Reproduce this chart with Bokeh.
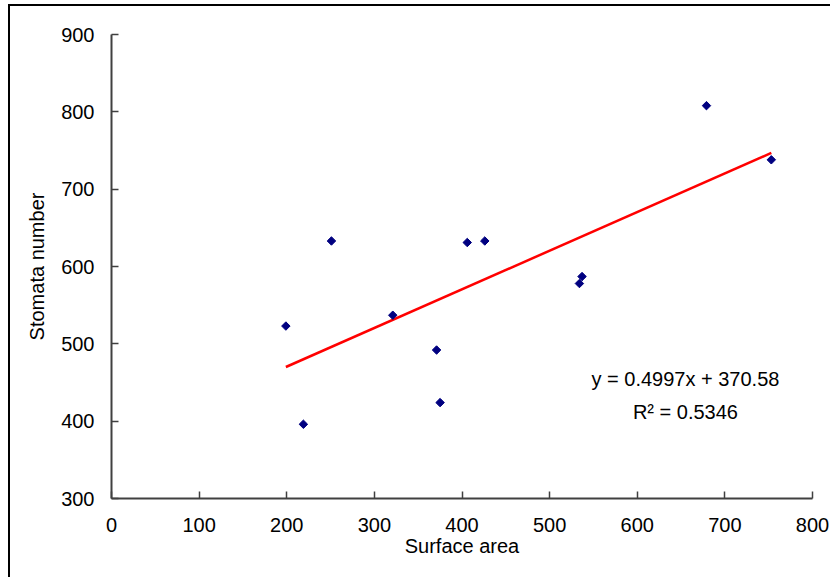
from bokeh.plotting import figure
from bokeh.models import Range1d, FixedTicker, Label
from bokeh.embed import file_html
from bokeh.resources import INLINE

# Data
surface_area = [199, 219, 251, 321, 371, 375, 406, 426, 534, 537, 679, 753]
stomata_number = [523, 396, 633, 537, 492, 424, 631, 633, 578, 587, 808, 738]

slope = 0.4997
intercept = 370.58
r_squared = 0.5346

x_ticks = [0, 100, 200, 300, 400, 500, 600, 700, 800]
y_ticks = [300, 400, 500, 600, 700, 800, 900]

FONT = "Liberation Sans"
FS = "20px"

p = figure(
    width=820, height=571,
    frame_width=701, frame_height=464,
    x_range=Range1d(x_ticks[0], x_ticks[-1]),
    y_range=Range1d(y_ticks[0], y_ticks[-1]),
    output_backend="svg", toolbar_location=None,
    min_border_left=101, min_border_top=28, min_border_right=18, min_border_bottom=79,
)
p.styles = {"margin-left": "8px", "margin-top": "4px",
            "border-left": "2px solid #000", "border-top": "2px solid #000"}
p.outline_line_color = None
p.background_fill_color = "white"
p.border_fill_color = "white"
p.xgrid.visible = False
p.ygrid.visible = False

for ax in (p.xaxis[0], p.yaxis[0]):
    ax.axis_line_color = "#404040"
    ax.axis_line_width = 2
    ax.major_tick_line_color = "#404040"
    ax.major_tick_line_width = 1.5
    ax.major_tick_in = 7
    ax.major_tick_out = 0
    ax.minor_tick_line_color = None
    ax.major_label_text_font = FONT
    ax.major_label_text_font_size = FS
    ax.major_label_text_color = "black"
    ax.axis_label_text_font = FONT
    ax.axis_label_text_font_size = FS
    ax.axis_label_text_font_style = "normal"
    ax.axis_label_text_color = "black"

p.xaxis.ticker = FixedTicker(ticks=x_ticks)
p.yaxis.ticker = FixedTicker(ticks=y_ticks)
p.xaxis.axis_label = "Surface area"
p.yaxis.axis_label = "Stomata number"
p.xaxis.major_label_standoff = 19
p.yaxis.major_label_standoff = 17
p.xaxis.axis_label_standoff = 0
p.yaxis.axis_label_standoff = 10

# trendline
x0, x1 = min(surface_area), max(surface_area)
p.line([x0, x1], [slope * x0 + intercept, slope * x1 + intercept],
       line_color="#ff0000", line_width=2.5)

p.scatter(surface_area, stomata_number, marker="square", size=6, angle=0.785398,
          fill_color="#000080", line_color="#000080")

eq1 = Label(x=655, y=454, text=f"y = {slope}x + {intercept}", text_align="center",
            text_baseline="alphabetic", text_font=FONT, text_font_size=FS, text_color="black")
eq2 = Label(x=655, y=412.5, text=f"R\u00b2 = {r_squared}", text_align="center",
            text_baseline="alphabetic", text_font=FONT, text_font_size=FS, text_color="black")
p.add_layout(eq1)
p.add_layout(eq2)

open("out.html", "w").write(file_html(p, INLINE))
